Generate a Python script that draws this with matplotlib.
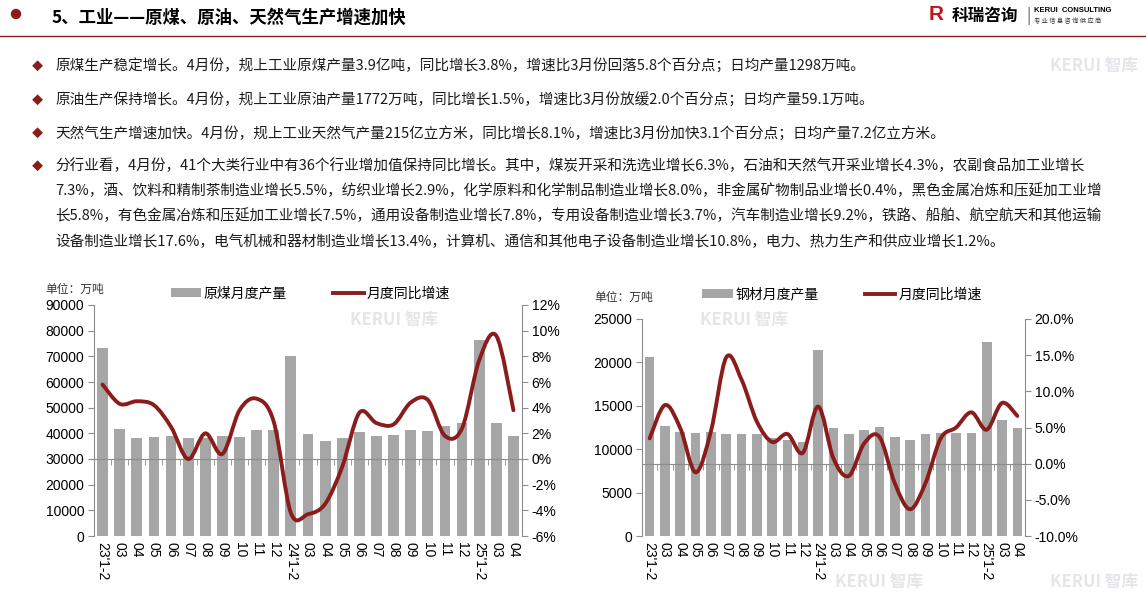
import numpy as np
import matplotlib
matplotlib.use("Agg")
import matplotlib.pyplot as plt
from matplotlib.path import Path
from matplotlib.patches import PathPatch, Patch, Ellipse
from matplotlib.lines import Line2D

plt.rcParams['font.family'] = ['Noto Sans CJK SC', 'DejaVu Sans']

# ---- data ----
months = ["23'1-2", "03", "04", "05", "06", "07", "08", "09", "10", "11", "12",
          "24'1-2", "03", "04", "05", "06", "07", "08", "09", "10", "11", "12",
          "25'1-2", "03", "04"]

coal_output = [73300, 41700, 38100, 38600, 39000, 38100, 38300, 39000, 38600, 41400, 41400,
               70000, 39700, 37000, 38300, 40500, 38900, 39400, 41300, 40900, 43000, 44000,
               76500, 44000, 39000]
coal_yoy = [5.8, 4.3, 4.5, 4.2, 2.5, 0.0, 2.0, 0.4, 3.8, 4.7, 2.9,
            -4.2, -4.3, -3.5, -0.6, 3.6, 2.8, 2.7, 4.4, 4.6, 1.8, 2.4,
            7.7, 9.6, 3.8]

steel_output = [20650, 12700, 12000, 11880, 12000, 11700, 11700, 11800, 11270, 11080, 10850,
                21400, 12400, 11700, 12230, 12600, 11460, 11080, 11800, 11880, 11880, 11880,
                22400, 13400, 12500]
steel_yoy = [3.5, 8.1, 4.9, -1.2, 4.5, 14.7, 11.6, 5.8, 3.0, 4.1, 1.5,
             7.9, 0.7, -1.7, 2.8, 3.7, -2.7, -6.3, -2.7, 3.5, 5.0, 7.1,
             4.7, 8.4, 6.6]

bullets = [
    "原煤生产稳定增长。4月份，规上工业原煤产量3.9亿吨，同比增长3.8%，增速比3月份回落5.8个百分点；日均产量1298万吨。",
    "原油生产保持增长。4月份，规上工业原油产量1772万吨，同比增长1.5%，增速比3月份放缓2.0个百分点；日均产量59.1万吨。",
    "天然气生产增速加快。4月份，规上工业天然气产量215亿立方米，同比增长8.1%，增速比3月份加快3.1个百分点；日均产量7.2亿立方米。",
]
para_lines = [
    "分行业看，4月份，41个大类行业中有36个行业增加值保持同比增长。其中，煤炭开采和洗选业增长6.3%，石油和天然气开采业增长4.3%，农副食品加工业增长",
    "7.3%，酒、饮料和精制茶制造业增长5.5%，纺织业增长2.9%，化学原料和化学制品制造业增长8.0%，非金属矿物制品业增长0.4%，黑色金属冶炼和压延加工业增",
    "长5.8%，有色金属冶炼和压延加工业增长7.5%，通用设备制造业增长7.8%，专用设备制造业增长3.7%，汽车制造业增长9.2%，铁路、船舶、航空航天和其他运输",
    "设备制造业增长17.6%，电气机械和器材制造业增长13.4%，计算机、通信和其他电子设备制造业增长10.8%，电力、热力生产和供应业增长1.2%。",
]

RED = "#8B1C1C"
BAR = "#A6A6A6"
AXC = "#8C8C8C"
W, H = 1146, 612


def smooth_path(xs, ys):
    # Excel-style smoothed line as cubic Bezier segments
    pts = np.column_stack([xs, ys]).astype(float)
    n = len(pts)
    verts = [pts[0]]
    codes = [Path.MOVETO]
    for i in range(n - 1):
        p0 = pts[i - 1] if i > 0 else pts[i]
        p1, p2 = pts[i], pts[i + 1]
        p3 = pts[i + 2] if i + 2 < n else pts[i + 1]
        verts += [p1 + (p2 - p0) / 6, p2 - (p3 - p1) / 6, p2]
        codes += [Path.CURVE4] * 3
    return Path(verts, codes)


fig = plt.figure(figsize=(W / 100, H / 100), dpi=100)

# ---- header ----
fig.patches.append(Ellipse((16 / W, 1 - 14 / H), 9 / W, 9 / H,
                           transform=fig.transFigure, color=RED))
fig.text(52 / W, 1 - 18 / H, "5、工业——原煤、原油、天然气生产增速加快", fontsize=12.5,
         fontweight='bold', va='center', ha='left', color='black')
fig.add_artist(Line2D([0, 1], [1 - 36 / H, 1 - 36 / H], color=RED, lw=1.0,
                      transform=fig.transFigure))
fig.text(929 / W, 1 - 15 / H, "R", fontsize=15, fontweight='bold', color="#C0141B",
         va='center', ha='left', family=['Liberation Sans'])
fig.text(952 / W, 1 - 16 / H, "科瑞咨询", fontsize=12, fontweight='bold', va='center',
         ha='left', color='black')
fig.text(1026 / W, 1 - 16 / H, "|", fontsize=11, va='center', ha='left', color='#555555')
fig.text(1034 / W, 1 - 11 / H, "KERUI  CONSULTING", fontsize=5.5, fontweight='bold',
         va='center', ha='left', color='black', family=['Liberation Sans'])
fig.text(1034 / W, 1 - 21 / H, "专 业 信 息 咨 询 供 应 商", fontsize=4.5, va='center',
         ha='left', color='#333333')

# ---- watermarks ----
for wx, wy in [(1050, 66), (350, 320), (700, 320), (835, 582), (1050, 582)]:
    fig.text(wx / W, 1 - wy / H, "KERUI 智库", fontsize=12, fontweight='bold',
             color="#E4E6EA", va='center', ha='left', zorder=0)

# ---- bullet text ----
for y, s in zip([66, 100, 133], bullets):
    fig.text(37 / W, 1 - y / H, "◆", fontsize=8, color=RED, va='center', ha='center')
    fig.text(55 / W, 1 - y / H, s, fontsize=10.5, va='center', ha='left', color='#1a1a1a')
fig.text(37 / W, 1 - 166 / H, "◆", fontsize=8, color=RED, va='center', ha='center')
for y, s in zip([166, 191, 216, 242], para_lines):
    fig.text(55 / W, 1 - y / H, s, fontsize=10.5, va='center', ha='left', color='#1a1a1a')


def make_chart(rect, bars, yoy, bar_name, ymax, ystep, rlim, rstep, rfmt, leg_x, leg_y,
               unit_xy):
    ax = fig.add_axes(rect)
    ax.patch.set_alpha(0)
    x = np.arange(len(months))
    ax.bar(x, bars, width=0.63, color=BAR, zorder=2)
    ax.set_xlim(-0.5, len(months) - 0.5)
    ax.set_ylim(0, ymax)
    ax.set_yticks(np.arange(0, ymax + 1, ystep))
    ax.set_yticklabels([f"{int(v)}" for v in np.arange(0, ymax + 1, ystep)],
                       family=['Liberation Sans'], fontsize=10)
    ax.set_xticks(x)
    ax.set_xticklabels(months, rotation=-90, family=['Liberation Sans'], fontsize=10,
                       va='top', ha='center')
    ax.set_xticks(np.arange(-0.5, len(months), 1), minor=True)
    ax.tick_params(axis='x', which='both', length=0, pad=4)
    ax.tick_params(axis='y', length=4, color=AXC, pad=3)
    for s in ['top', 'right', 'bottom']:
        ax.spines[s].set_visible(False)
    ax.spines['left'].set_color(AXC)

    ax2 = ax.twinx()
    ax2.set_ylim(*rlim)
    rt = np.arange(rlim[0], rlim[1] + 1e-9, rstep)
    ax2.set_yticks(rt)
    ax2.set_yticklabels([rfmt.format(v) for v in rt], family=['Liberation Sans'],
                        fontsize=10)
    ax2.tick_params(axis='y', length=4, color=AXC, pad=3)
    for s in ['top', 'left']:
        ax2.spines[s].set_visible(False)
    ax2.spines['right'].set_color(AXC)
    ax2.xaxis.set_visible(True)
    ax2.spines['bottom'].set_visible(True)
    ax2.spines['bottom'].set_position(('data', 0))
    ax2.spines['bottom'].set_color(AXC)
    ax2.tick_params(axis='x', which='major', length=0, labelbottom=False)
    ax2.tick_params(axis='x', which='minor', length=4, color=AXC, direction='out')

    ax2.add_patch(PathPatch(smooth_path(x, yoy), fill=False, edgecolor=RED, lw=2.8,
                            capstyle='round', joinstyle='round', zorder=3))

    handles = [Patch(facecolor=BAR, edgecolor='none'),
               Line2D([0], [0], color=RED, lw=2.8)]
    ax.legend(handles, [bar_name, "月度同比增速"], ncol=2, frameon=False, loc='center',
              bbox_to_anchor=(leg_x, leg_y), fontsize=10, handlelength=2.2,
              handleheight=0.6, handletextpad=0.2, columnspacing=3.3)
    fig.text(unit_xy[0] / W, 1 - unit_xy[1] / H, "单位：万吨", fontsize=8.5,
             va='center', ha='left', color='#333333')
    return ax, ax2


make_chart([94 / W, 1 - 536 / H, 428 / W, 231 / H], coal_output, coal_yoy, "原煤月度产量",
           90000, 10000, (-6, 12), 2, "{:.0f}%", 0.505, 1.05, (45, 289))
make_chart([642 / W, 1 - 536 / H, 383 / W, 217 / H], steel_output, steel_yoy, "钢材月度产量",
           25000, 5000, (-10, 20), 5, "{:.1f}%", 0.522, 1.113, (594, 297))

fig.savefig("out.png", dpi=100)
